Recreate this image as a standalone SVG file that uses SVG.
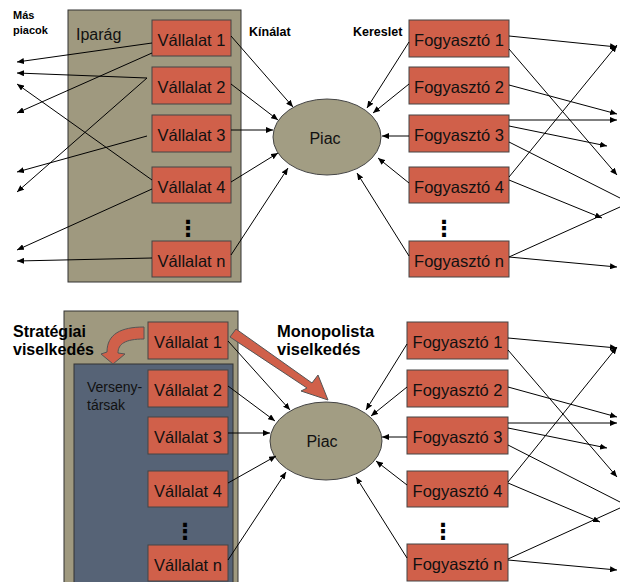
<svg xmlns="http://www.w3.org/2000/svg" width="620" height="582" viewBox="0 0 620 582">
<defs>
<marker id="ah" markerWidth="8" markerHeight="6" refX="7" refY="3" orient="auto" markerUnits="userSpaceOnUse">
<path d="M0,0 L7,3 L0,6 z" fill="#000"/>
</marker>
<style>
.ind{fill:#9F997F;stroke:#333;stroke-width:1}
.blue{fill:#566376;stroke:#333;stroke-width:1}
.box{fill:#D0604A;stroke:#444;stroke-width:1}
.ell{fill:#A29D83;stroke:#444;stroke-width:1}
.bt{font-family:"Liberation Sans",Arial,sans-serif;font-size:16.5px;fill:#111;text-anchor:middle}
.lbl{font-family:"Liberation Sans",Arial,sans-serif;font-weight:bold;fill:#000}
.reg{font-family:"Liberation Sans",Arial,sans-serif;fill:#111}
.dots{font-family:"DejaVu Sans",sans-serif;font-size:22px;font-weight:bold;fill:#000;text-anchor:middle}
.c{stroke:#000;stroke-width:1;fill:none}
.a{stroke:#000;stroke-width:1;fill:none;marker-end:url(#ah)}
.big{fill:#D0604A;stroke:#555;stroke-width:1}
</style>
</defs>
<rect width="620" height="582" fill="#fff"/>

<!-- ===== TOP DIAGRAM ===== -->
<g id="iparag">
<rect class="ind" x="68" y="10" width="173" height="272"/>
<text class="reg" x="76" y="40" font-size="16">Iparág</text>
</g>
<g id="label-mas-piacok">
<text class="lbl" x="13" y="19" font-size="11">Más</text>
<text class="lbl" x="13" y="34" font-size="11">piacok</text>
</g>
<g id="label-kinalat"><text class="lbl" x="249" y="36" font-size="12.5">Kínálat</text></g>
<g id="label-kereslet"><text class="lbl" x="353" y="36" font-size="12.5">Kereslet</text></g>

<g id="t-v1"><rect class="box" x="152" y="20" width="79" height="36"/><text class="bt" x="191.5" y="46">Vállalat 1</text></g>
<g id="t-v2"><rect class="box" x="152" y="67" width="79" height="37"/><text class="bt" x="191.5" y="93">Vállalat 2</text></g>
<g id="t-v3"><rect class="box" x="152" y="115" width="79" height="37"/><text class="bt" x="191.5" y="141">Vállalat 3</text></g>
<g id="t-v4"><rect class="box" x="152" y="167" width="79" height="36"/><text class="bt" x="191.5" y="193">Vállalat 4</text></g>
<g id="t-vdots"><text class="dots" x="188" y="236">⋮</text></g>
<g id="t-vn"><rect class="box" x="152" y="241" width="79" height="36"/><text class="bt" x="191.5" y="267">Vállalat n</text></g>

<g id="t-piac"><ellipse class="ell" cx="327" cy="137" rx="54" ry="38"/><text class="reg" x="325" y="144" font-size="16" text-anchor="middle">Piac</text></g>

<g id="t-f1"><rect class="box" x="409" y="20" width="100" height="37"/><text class="bt" x="459" y="46">Fogyasztó 1</text></g>
<g id="t-f2"><rect class="box" x="409" y="67" width="100" height="37"/><text class="bt" x="459" y="93">Fogyasztó 2</text></g>
<g id="t-f3"><rect class="box" x="409" y="115" width="100" height="37"/><text class="bt" x="459" y="141">Fogyasztó 3</text></g>
<g id="t-f4"><rect class="box" x="409" y="167" width="100" height="36"/><text class="bt" x="459" y="193">Fogyasztó 4</text></g>
<g id="t-fdots"><text class="dots" x="444" y="236">⋮</text></g>
<g id="t-fn"><rect class="box" x="409" y="241" width="100" height="36"/><text class="bt" x="459" y="267">Fogyasztó n</text></g>

<!-- ===== BOTTOM DIAGRAM ===== -->
<g id="iparag2">
<rect class="ind" x="64" y="311" width="174" height="280"/>
</g>
<g id="versenytarsak">
<rect class="blue" x="74" y="364" width="159" height="230"/>
<text class="reg" x="87" y="392" font-size="14">Verseny-</text>
<text class="reg" x="87" y="410" font-size="14">társak</text>
</g>
<g id="label-strategiai">
<text class="lbl" x="13" y="337" font-size="16">Stratégiai</text>
<text class="lbl" x="13" y="355" font-size="16">viselkedés</text>
</g>
<g id="label-monopolista">
<text class="lbl" x="277" y="337" font-size="16.5">Monopolista</text>
<text class="lbl" x="277" y="355" font-size="16.5">viselkedés</text>
</g>

<g id="b-v1"><rect class="box" x="148" y="322" width="80" height="37"/><text class="bt" x="188" y="348">Vállalat 1</text></g>
<g id="b-v2"><rect class="box" x="148" y="370" width="80" height="37"/><text class="bt" x="188" y="396">Vállalat 2</text></g>
<g id="b-v3"><rect class="box" x="148" y="417" width="80" height="37"/><text class="bt" x="188" y="443">Vállalat 3</text></g>
<g id="b-v4"><rect class="box" x="148" y="471" width="80" height="36"/><text class="bt" x="188" y="497">Vállalat 4</text></g>
<g id="b-vdots"><text class="dots" x="185" y="539">⋮</text></g>
<g id="b-vn"><rect class="box" x="148" y="545" width="80" height="36"/><text class="bt" x="188" y="571">Vállalat n</text></g>

<g id="b-piac"><ellipse class="ell" cx="326" cy="441" rx="56" ry="39"/><text class="reg" x="322" y="447" font-size="16" text-anchor="middle">Piac</text></g>

<g id="b-f1"><rect class="box" x="407" y="322" width="101" height="37"/><text class="bt" x="457.5" y="348">Fogyasztó 1</text></g>
<g id="b-f2"><rect class="box" x="407" y="370" width="101" height="37"/><text class="bt" x="457.5" y="396">Fogyasztó 2</text></g>
<g id="b-f3"><rect class="box" x="407" y="417" width="101" height="37"/><text class="bt" x="457.5" y="443">Fogyasztó 3</text></g>
<g id="b-f4"><rect class="box" x="407" y="471" width="101" height="36"/><text class="bt" x="457.5" y="497">Fogyasztó 4</text></g>
<g id="b-fdots"><text class="dots" x="443" y="539">⋮</text></g>
<g id="b-fn"><rect class="box" x="407" y="544" width="101" height="37"/><text class="bt" x="457.5" y="570">Fogyasztó n</text></g>

<!-- behaviour arrows -->
<g id="strategic-arrow">
<path class="big" d="M144,327 C121,327 107,334 107,352 L101,354 L113,364 L125,354 L118,353 C118,344 125,339 144,339 Z"/>
</g>
<g id="monopoly-arrow">
<path class="big" d="M230,337 L236,329 L312,383 L318,375 L328,400 L301,391 L307,388 Z"/>
</g>

<!-- ===== CONNECTORS ===== -->
<g id="connectors">
<!-- top: firms to other markets -->
<line class="a" x1="152" y1="43" x2="17" y2="62"/>
<line class="a" x1="152" y1="53" x2="17" y2="113"/>
<line class="a" x1="147" y1="78" x2="17" y2="73"/>
<line class="a" x1="147" y1="78" x2="17" y2="192"/>
<line class="a" x1="147" y1="136" x2="17" y2="172"/>
<line class="a" x1="152" y1="180" x2="17" y2="84"/>
<line class="a" x1="152" y1="189" x2="17" y2="250"/>
<line class="a" x1="152" y1="258" x2="17" y2="261"/>
<!-- top: firms to market -->
<line class="a" x1="231" y1="36" x2="293" y2="107"/>
<line class="a" x1="231" y1="84" x2="278" y2="120"/>
<line class="a" x1="231" y1="130" x2="273" y2="130"/>
<line class="a" x1="231" y1="182" x2="278" y2="153"/>
<line class="a" x1="231" y1="255" x2="288" y2="168"/>
<!-- top: consumers to market -->
<line class="a" x1="409" y1="42" x2="367" y2="108"/>
<line class="a" x1="409" y1="84" x2="373" y2="113"/>
<line class="a" x1="409" y1="136" x2="382" y2="136"/>
<line class="a" x1="409" y1="183" x2="378" y2="158"/>
<line class="a" x1="409" y1="256" x2="357" y2="173"/>
<!-- top: consumers to other markets -->
<line class="a" x1="509" y1="36" x2="617" y2="47"/>
<line class="a" x1="509" y1="49" x2="617" y2="175"/>
<line class="a" x1="509" y1="85" x2="617" y2="114"/>
<line class="a" x1="509" y1="120" x2="617" y2="120"/>
<line class="a" x1="509" y1="126" x2="607" y2="146"/>
<line class="c" x1="509" y1="142" x2="620" y2="198"/>
<line class="a" x1="509" y1="177" x2="617" y2="45"/>
<line class="a" x1="509" y1="180" x2="602" y2="218"/>
<line class="c" x1="509" y1="257" x2="620" y2="207"/>
<line class="a" x1="509" y1="257" x2="617" y2="267"/>

<!-- bottom: firms to market -->
<line class="a" x1="228" y1="341" x2="290" y2="410"/>
<line class="a" x1="228" y1="386" x2="275" y2="421"/>
<line class="a" x1="228" y1="433" x2="270" y2="433"/>
<line class="a" x1="228" y1="483" x2="276" y2="456"/>
<line class="a" x1="228" y1="560" x2="286" y2="472"/>
<!-- bottom: consumers to market -->
<line class="a" x1="407" y1="344" x2="366" y2="410"/>
<line class="a" x1="407" y1="387" x2="371" y2="416"/>
<line class="a" x1="407" y1="437" x2="382" y2="437"/>
<line class="a" x1="407" y1="485" x2="376" y2="461"/>
<line class="a" x1="407" y1="558" x2="356" y2="477"/>
<!-- bottom: consumers to other markets -->
<line class="a" x1="508" y1="338" x2="617" y2="348"/>
<line class="a" x1="508" y1="350" x2="617" y2="477"/>
<line class="a" x1="508" y1="387" x2="617" y2="417"/>
<line class="a" x1="508" y1="423" x2="617" y2="423"/>
<line class="a" x1="508" y1="428" x2="607" y2="448"/>
<line class="c" x1="508" y1="445" x2="620" y2="502"/>
<line class="a" x1="508" y1="482" x2="617" y2="347"/>
<line class="a" x1="508" y1="483" x2="600" y2="522"/>
<line class="c" x1="508" y1="559" x2="620" y2="508"/>
<line class="a" x1="508" y1="560" x2="617" y2="570"/>
</g>
</svg>
